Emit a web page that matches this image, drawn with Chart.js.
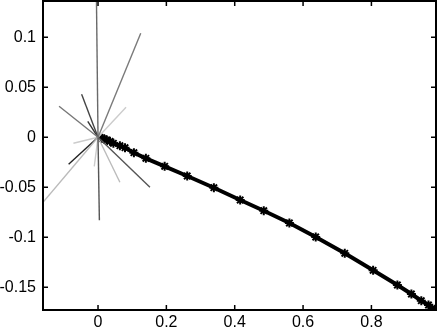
<!DOCTYPE html>
<html>
<head>
<meta charset="utf-8">
<script src="https://cdn.jsdelivr.net/npm/chart.js@4"></script>
<style>
  body { margin: 0; background: #fff; }
</style>
</head>
<body>
<canvas id="plot" width="437" height="329"></canvas>
<script>
// main trajectory (thick black line with markers)
const pathX = [0.012, 0.018, 0.025, 0.035, 0.045, 0.064, 0.079, 0.105, 0.140, 0.195, 0.261, 0.339,
               0.416, 0.485, 0.560, 0.637, 0.722, 0.805, 0.876, 0.917, 0.946, 0.967, 0.978, 0.989];
const pathY = [-0.001, -0.0015, -0.0027, -0.004, -0.006, -0.0084, -0.0104, -0.0154, -0.021, -0.029, -0.0387, -0.0504,
               -0.0627, -0.0734, -0.0857, -0.0997, -0.116, -0.133, -0.1477, -0.1567, -0.1634, -0.1677, -0.171, -0.1727];

// rays from the origin (end points + gray shade)
const rayX = [-0.005, 0.004, 0.125, -0.161, -0.114, -0.048, 0.082, 0.152, 0.064, -0.086, -0.072, -0.030, -0.011];
const rayY = [0.15, -0.083, 0.104, -0.065, 0.031, 0.043, 0.030, -0.050, -0.045, -0.027, -0.006, 0.016, -0.029];
const rayGray = ['#6a6a6a', '#555555', '#7a7a7a', '#bbbbbb', '#777777', '#444444', '#cccccc',
                 '#555555', '#bbbbbb', '#222222', '#cccccc', '#333333', '#cccccc'];

const xTicks = [0, 0.2, 0.4, 0.6, 0.8];
const yTicks = [-0.15, -0.1, -0.05, 0, 0.05, 0.1];

const datasets = [];
for (let i = 0; i < rayX.length; i++) {
  datasets.push({
    data: [{x: 0, y: 0}, {x: rayX[i], y: rayY[i]}],
    showLine: true,
    borderColor: rayGray[i],
    borderWidth: 1.4,
    pointRadius: 0,
    clip: 0
  });
}
datasets.push({
  data: pathX.map((x, i) => ({x: x, y: pathY[i]})),
  showLine: true,
  borderColor: '#000',
  borderWidth: 4,
  pointStyle: 'star',
  pointRadius: 4.5,
  pointBorderWidth: 2,
  pointBorderColor: '#000',
  clip: 0
});

const frameTicks = {
  id: 'frameTicks',
  afterDraw(chart) {
    const ctx = chart.ctx;
    const a = chart.chartArea;
    const xs = chart.scales.x, ys = chart.scales.y;
    ctx.save();
    ctx.strokeStyle = '#000';
    ctx.lineWidth = 2;
    ctx.strokeRect(a.left, a.top, a.right - a.left, a.bottom - a.top);
    ctx.lineWidth = 1.5;
    ctx.beginPath();
    xTicks.forEach(v => {
      const px = xs.getPixelForValue(v);
      ctx.moveTo(px, a.bottom); ctx.lineTo(px, a.bottom - 5);
      ctx.moveTo(px, a.top); ctx.lineTo(px, a.top + 5);
    });
    yTicks.forEach(v => {
      const py = ys.getPixelForValue(v);
      ctx.moveTo(a.left, py); ctx.lineTo(a.left + 5, py);
      ctx.moveTo(a.right, py); ctx.lineTo(a.right - 5, py);
    });
    ctx.stroke();
    ctx.restore();
  }
};

const tickFont = { family: '"Liberation Sans", Arial, sans-serif', size: 16 };
const noPad = s => { s.paddingTop = 0; s.paddingBottom = 0; s.paddingLeft = 0; s.paddingRight = 0; };

new Chart(document.getElementById('plot'), {
  type: 'scatter',
  data: { datasets: datasets },
  options: {
    responsive: false,
    animation: false,
    layout: { autoPadding: false, padding: { top: 1, right: 1, left: 0, bottom: 0 } },
    plugins: { legend: { display: false }, tooltip: { enabled: false } },
    scales: {
      x: {
        min: -0.161, max: 0.989,
        grid: { display: false, drawTicks: false },
        border: { display: false },
        ticks: { color: '#000', font: tickFont, padding: 3, maxRotation: 0, callback: v => String(v) },
        afterBuildTicks: s => { s.ticks = xTicks.map(v => ({ value: v })); },
        afterFit: s => { s.height = 19; noPad(s); }
      },
      y: {
        min: -0.1727, max: 0.1363,
        grid: { display: false, drawTicks: false },
        border: { display: false },
        ticks: { color: '#000', font: tickFont, padding: 7, callback: v => String(v) },
        afterBuildTicks: s => { s.ticks = yTicks.map(v => ({ value: v })); },
        afterFit: s => { s.width = 43; noPad(s); }
      }
    }
  },
  plugins: [frameTicks]
});
</script>
</body>
</html>
